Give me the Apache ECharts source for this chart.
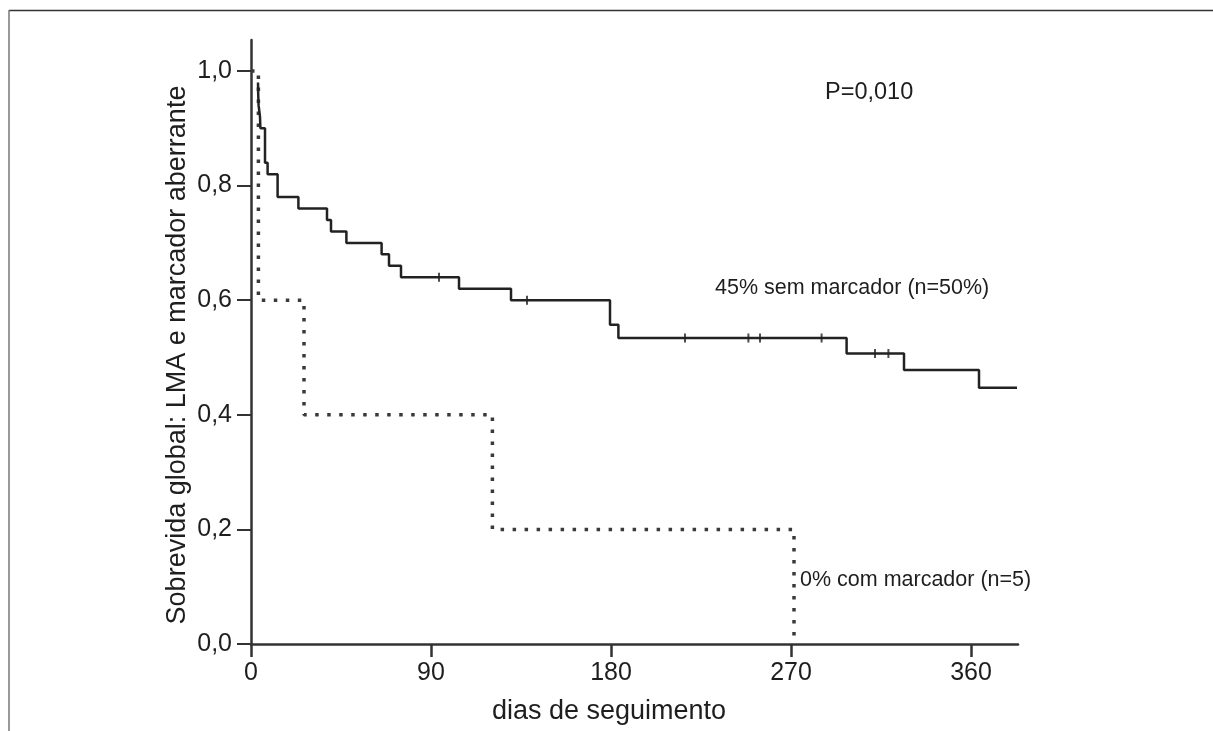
<!DOCTYPE html>
<html style="height: 100%">

<head>
  <meta charset="utf-8">
</head>

<body style="height: 100%; margin: 0; background: #fff">
  <div id="container" style="width: 1213px; height: 731px"></div>
  <script type="text/javascript" src="https://cdn.jsdelivr.net/npm/echarts@6/dist/echarts.min.js"></script>
  <script type="text/javascript">
    // curva sem marcador (n=50): [dia, sobrevida]
    var semMarcador = [
      [3.5, 0.98], [3.6, 0.96], [3.8, 0.94], [4.5, 0.92], [4.7, 0.90],
      [7, 0.84], [8.3, 0.82], [13.3, 0.78], [23.7, 0.76], [38, 0.74],
      [40, 0.72], [47.7, 0.70], [65.3, 0.68], [69, 0.66], [75, 0.64],
      [104, 0.62], [130, 0.60], [179.5, 0.557], [183.7, 0.534],
      [297.8, 0.507], [326.5, 0.478], [364, 0.447], [383, 0.447]
    ];
    // curva com marcador (n=5)
    var comMarcador = [
      [0, 1.0], [3.7, 0.6], [26.5, 0.4], [120.7, 0.2], [271.5, 0.0]
    ];
    // casos censurados na curva sem marcador
    var censuraDias = [94, 138, 217, 248.7, 254.5, 285.3, 312, 318.7];
    var censuraSobrev = [0.64, 0.60, 0.534, 0.534, 0.534, 0.534, 0.507, 0.507];

    var xTicks = [0, 90, 180, 270, 360];
    var yTicks = [0, 0.2, 0.4, 0.6, 0.8, 1.0];

    var FONT = 'Liberation Sans, Arial, sans-serif';
    var INK = '#1e1e1e';

    var censuras = censuraDias.map(function (d, i) { return [d, censuraSobrev[i]]; });

    var dom = document.getElementById("container");
    var myChart = echarts.init(dom);
    var option = {
      animation: false,
      backgroundColor: '#fff',
      grid: { left: 251, top: 40, width: 767, height: 604 },
      xAxis: {
        type: 'value',
        min: 0,
        max: 383.5,
        splitLine: { show: false },
        axisLine: { lineStyle: { color: '#333', width: 2.5 } },
        axisTick: { customValues: xTicks, length: 13, lineStyle: { color: '#333', width: 2.5 } },
        axisLabel: {
          customValues: xTicks,
          margin: 17,
          color: INK,
          fontSize: 25,
          fontFamily: FONT
        }
      },
      yAxis: {
        type: 'value',
        min: 0,
        max: 1.0541,
        splitLine: { show: false },
        axisLine: { lineStyle: { color: '#333', width: 2.5 } },
        axisTick: { customValues: yTicks, length: 14, lineStyle: { color: '#333', width: 2 } },
        axisLabel: {
          customValues: yTicks,
          margin: 19,
          color: INK,
          fontSize: 25,
          fontFamily: FONT,
          formatter: function (v) { return v.toFixed(1).replace('.', ','); }
        }
      },
      series: [
        {
          name: 'com marcador',
          type: 'line',
          step: 'end',
          data: comMarcador,
          showSymbol: false,
          lineStyle: { color: '#3a3a3a', width: 3.5, type: [3.5, 8.5], cap: 'butt' },
          z: 2
        },
        {
          name: 'sem marcador',
          type: 'line',
          step: 'end',
          data: semMarcador,
          showSymbol: false,
          lineStyle: { color: '#222', width: 2.5 },
          z: 3
        },
        {
          name: 'censura',
          type: 'scatter',
          data: censuras,
          symbol: 'rect',
          symbolSize: [2, 9],
          itemStyle: { color: '#222' },
          z: 4
        }
      ],
      graphic: [
        { type: 'line', shape: { x1: 9, y1: 10.5, x2: 1213, y2: 10.5 }, style: { stroke: '#333', lineWidth: 1.5 } },
        { type: 'line', shape: { x1: 9, y1: 10, x2: 9, y2: 731 }, style: { stroke: '#777', lineWidth: 1.5 } },
        {
          type: 'text', x: 178, y: 355, rotation: Math.PI / 2,
          style: { text: 'Sobrevida global: LMA e marcador aberrante', fontSize: 27, fontFamily: FONT, fill: INK, align: 'center', verticalAlign: 'middle' }
        },
        {
          type: 'text', x: 609, y: 712,
          style: { text: 'dias de seguimento', fontSize: 27, fontFamily: FONT, fill: INK, align: 'center', verticalAlign: 'middle' }
        },
        {
          type: 'text', x: 825, y: 93,
          style: { text: 'P=0,010', fontSize: 23.5, fontFamily: FONT, fill: INK, align: 'left', verticalAlign: 'middle' }
        },
        {
          type: 'text', x: 715, y: 288,
          style: { text: '45% sem marcador (n=50%)', fontSize: 21.5, fontFamily: FONT, fill: INK, align: 'left', verticalAlign: 'middle' }
        },
        {
          type: 'text', x: 800, y: 580,
          style: { text: '0% com marcador (n=5)', fontSize: 21.5, fontFamily: FONT, fill: INK, align: 'left', verticalAlign: 'middle' }
        }
      ]
    };
    myChart.setOption(option);
  </script>
</body>

</html>
